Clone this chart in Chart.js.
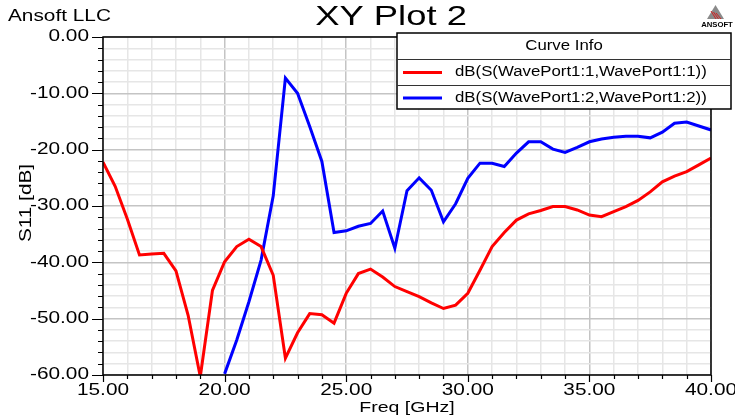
<!DOCTYPE html>
<html>
<head>
<meta charset="utf-8">
<script src="https://cdn.jsdelivr.net/npm/chart.js@4.4.1/dist/chart.umd.min.js"></script>
<style>
  html, body { margin: 0; padding: 0; background: #fff; }
  #wrap { width: 735px; height: 418px; position: relative; }
</style>
</head>
<body>
<div id="wrap"><canvas id="xyPlot"></canvas></div>
<script>
// frequency points (GHz)
var freq = [15.0, 15.5, 16.0, 16.5, 17.0, 17.5, 18.0, 18.5, 19.0, 19.5,
            20.0, 20.5, 21.0, 21.5, 22.0, 22.5, 23.0, 23.5, 24.0, 24.5,
            25.0, 25.5, 26.0, 26.5, 27.0, 27.5, 28.0, 28.5, 29.0, 29.5,
            30.0, 30.5, 31.0, 31.5, 32.0, 32.5, 33.0, 33.5, 34.0, 34.5,
            35.0, 35.5, 36.0, 36.5, 37.0, 37.5, 38.0, 38.5, 39.0, 39.5, 40.0];
// dB(S(WavePort1:1,WavePort1:1))
var s11 = [-22.2, -26.5, -32.3, -38.7, -38.5, -38.4, -41.5, -49.4, -60.3, -45.0,
           -39.9, -37.2, -35.9, -37.2, -42.3, -57.0, -52.5, -49.1, -49.3, -50.8,
           -45.5, -42.0, -41.2, -42.6, -44.3, -45.2, -46.1, -47.2, -48.2, -47.6,
           -45.5, -41.4, -37.2, -34.7, -32.5, -31.4, -30.8, -30.1, -30.1, -30.7,
           -31.6, -31.9, -31.0, -30.1, -29.0, -27.5, -25.7, -24.7, -23.9, -22.7, -21.5];
// dB(S(WavePort1:2,WavePort1:2)) - below the plot floor before 20 GHz
var s22 = [null, null, null, null, null, null, null, null, null, null,
           -59.8, -53.8, -47.0, -39.6, -28.2, -7.3, -10.0, -15.9, -22.1, -34.7,
           -34.4, -33.6, -33.1, -30.9, -37.5, -27.3, -25.0, -27.2, -32.8, -29.6,
           -25.1, -22.4, -22.4, -23.0, -20.6, -18.6, -18.6, -19.9, -20.5, -19.6,
           -18.6, -18.1, -17.8, -17.6, -17.6, -17.9, -16.9, -15.3, -15.1, -15.8, -16.5];
var seriesNames = ['dB(S(WavePort1:1,WavePort1:1))', 'dB(S(WavePort1:2,WavePort1:2))'];
var seriesColors = ['#ff0000', '#0000ff'];
var xTicks = [15, 20, 25, 30, 35, 40];
var yTicks = [0, -10, -20, -30, -40, -50, -60];

var FONT = '"Liberation Sans", Arial, sans-serif';

function toPoints(ys) {
    return freq.map(function (f, i) { return { x: f, y: ys[i] }; });
}

// wide text like the HFSS export
function wideText(ctx, s, x, y, size, align, sx, bold, rot) {
    ctx.save();
    ctx.font = (bold ? 'bold ' : '') + size + 'px ' + FONT;
    ctx.fillStyle = '#000';
    ctx.textAlign = align;
    ctx.textBaseline = 'middle';
    ctx.translate(x, y);
    if (rot) ctx.rotate(rot);
    ctx.scale(sx, 1);
    ctx.fillText(s, 0, 0);
    ctx.restore();
}

function isMajor(v, step) {
    var r = Math.abs(v % step);
    return r < 1e-6 || Math.abs(r - step) < 1e-6;
}

var decorations = {
    id: 'decorations',
    afterDatasetsDraw: function (chart) {
        var ctx = chart.ctx, a = chart.chartArea;
        var xs = chart.scales.x, ys = chart.scales.y;

        // frame
        ctx.save();
        ctx.strokeStyle = '#000';
        ctx.lineWidth = 1.5;
        ctx.strokeRect(a.left, a.top, a.right - a.left, a.bottom - a.top);

        // tick marks
        ctx.lineWidth = 1.2;
        ctx.beginPath();
        for (var v = -60; v <= 0; v += 2) {
            var py = Math.round(ys.getPixelForValue(v)) + 0.5;
            ctx.moveTo(a.left - (isMajor(v, 10) ? 11 : 5), py);
            ctx.lineTo(a.left, py);
        }
        for (var f = 15; f <= 40; f += 1) {
            var px = Math.round(xs.getPixelForValue(f)) + 0.5;
            ctx.moveTo(px, a.bottom);
            ctx.lineTo(px, a.bottom + (isMajor(f, 5) ? 7 : 4));
        }
        ctx.stroke();
        ctx.restore();

        // tick labels
        yTicks.forEach(function (t) {
            wideText(ctx, t.toFixed(2), 89, ys.getPixelForValue(t), 16, 'right', 1.3);
        });
        xTicks.forEach(function (t) {
            wideText(ctx, t.toFixed(2), xs.getPixelForValue(t), 391, 16, 'center', 1.3);
        });

        // axis titles, header
        wideText(ctx, 'Freq [GHz]', (a.left + a.right) / 2, 408, 15, 'center', 1.3);
        wideText(ctx, 'S11 [dB]', 27, 203, 16, 'center', 1.3, false, -Math.PI / 2);
        wideText(ctx, 'XY Plot 2', 391, 17, 28, 'center', 1.3);
        wideText(ctx, 'Ansoft LLC', 8, 17, 16, 'left', 1.3);

        // ANSOFT logo
        ctx.save();
        ctx.fillStyle = '#8a8a8a';
        ctx.beginPath();
        ctx.moveTo(715.5, 5); ctx.lineTo(724, 19); ctx.lineTo(707, 19); ctx.closePath();
        ctx.fill();
        ctx.strokeStyle = '#d42020';
        ctx.lineWidth = 1;
        ctx.beginPath();
        for (var k = 0; k < 3; k++) {
            ctx.moveTo(711 + k * 2.5, 11 + k); ctx.lineTo(716 + k * 2.5, 19);
        }
        ctx.stroke();
        ctx.restore();
        wideText(ctx, 'ANSOFT', 717, 25, 7, 'center', 1.1, true);

        // legend table
        var lx = 397, lt = 33, lr = 731, lb = 109;
        ctx.save();
        ctx.fillStyle = '#fff';
        ctx.fillRect(lx, lt, lr - lx, lb - lt);
        ctx.strokeStyle = '#000';
        ctx.lineWidth = 1.5;
        ctx.strokeRect(lx, lt, lr - lx, lb - lt);
        ctx.lineWidth = 1;
        ctx.strokeStyle = '#333';
        ctx.beginPath();
        ctx.moveTo(lx, 59.5); ctx.lineTo(lr, 59.5);
        ctx.moveTo(lx, 85.5); ctx.lineTo(lr, 85.5);
        ctx.stroke();
        ctx.lineWidth = 3;
        seriesColors.forEach(function (c, i) {
            ctx.strokeStyle = c;
            ctx.beginPath();
            ctx.moveTo(403, 72.5 + i * 25.5);
            ctx.lineTo(442, 72.5 + i * 25.5);
            ctx.stroke();
        });
        ctx.restore();
        wideText(ctx, 'Curve Info', (lx + lr) / 2, 46.5, 14, 'center', 1.2);
        seriesNames.forEach(function (n, i) {
            wideText(ctx, n, 455, 72.5 + i * 25.5, 14, 'left', 1.2);
        });
    }
};

var ctx = document.getElementById('xyPlot').getContext('2d');
var xyChart = new Chart(ctx, {
    type: 'line',
    data: {
        datasets: [{
            label: seriesNames[0],
            data: toPoints(s11),
            borderColor: seriesColors[0],
            borderWidth: 3,
            pointRadius: 0,
            tension: 0,
            clip: 0
        }, {
            label: seriesNames[1],
            data: toPoints(s22),
            borderColor: seriesColors[1],
            borderWidth: 3,
            pointRadius: 0,
            tension: 0,
            spanGaps: false,
            clip: 0
        }]
    },
    options: {
        responsive: true,
        maintainAspectRatio: false,
        animation: false,
        layout: { padding: { left: 103, right: 24, top: 37, bottom: 43 } },
        plugins: {
            legend: { display: false },
            title: { display: false },
            tooltip: { enabled: false }
        },
        scales: {
            x: {
                type: 'linear',
                min: 15,
                max: 40,
                ticks: { display: false, stepSize: 1 },
                border: { display: false },
                grid: {
                    drawTicks: false,
                    lineWidth: 1.5,
                    color: function (c) { return isMajor(c.tick.value, 5) ? '#c4c4c4' : '#e6e6e6'; }
                }
            },
            y: {
                min: -60,
                max: 0,
                ticks: { display: false, stepSize: 2 },
                border: { display: false },
                grid: {
                    drawTicks: false,
                    lineWidth: 1.5,
                    color: function (c) { return isMajor(c.tick.value, 10) ? '#c4c4c4' : '#e6e6e6'; }
                }
            }
        }
    },
    plugins: [decorations]
});
</script>
</body>
</html>
